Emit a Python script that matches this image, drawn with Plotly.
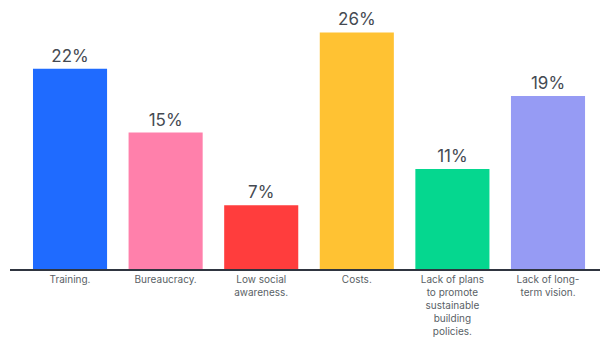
import plotly.graph_objects as go

categories = [
    "Training.",
    "Bureaucracy.",
    "Low social<br>awareness.",
    "Costs.",
    "Lack of plans<br>to promote<br>sustainable<br>building<br>policies.",
    "Lack of long-<br>term vision.",
]
values = [22, 15, 7, 26, 11, 19]
colors = ["#1F6BFF", "#FF80AB", "#FF3D3D", "#FFC233", "#05D78F", "#969BF4"]

x_pos = list(range(len(categories)))

fig = go.Figure(
    go.Bar(
        x=x_pos,
        y=values,
        width=0.775,
        marker=dict(color=colors, line=dict(width=0)),
        text=[f"{v}%" for v in values],
        textposition="outside",
        textfont=dict(family="Inter, Lato, sans-serif", size=17, color="#454a52"),
        cliponaxis=False,
    )
)

fig.update_layout(
    width=600,
    height=339,
    margin=dict(l=10, r=0, t=0, b=70),
    paper_bgcolor="white",
    plot_bgcolor="white",
    showlegend=False,
    bargap=0.2,
    xaxis=dict(
        range=[-0.628, 5.544],
        tickmode="array",
        tickvals=x_pos,
        ticktext=categories,
        tickfont=dict(family="Inter, Lato, sans-serif", size=10, color="#5a5f66"),
        showline=True,
        linecolor="#2f3540",
        linewidth=2,
        ticks="",
        showgrid=False,
        zeroline=False,
        fixedrange=True,
    ),
    yaxis=dict(
        range=[0, 29.56],
        visible=False,
        showgrid=False,
        zeroline=False,
        fixedrange=True,
    ),
    uniformtext=dict(minsize=8, mode="show"),
)

fig.write_html("out.html")
